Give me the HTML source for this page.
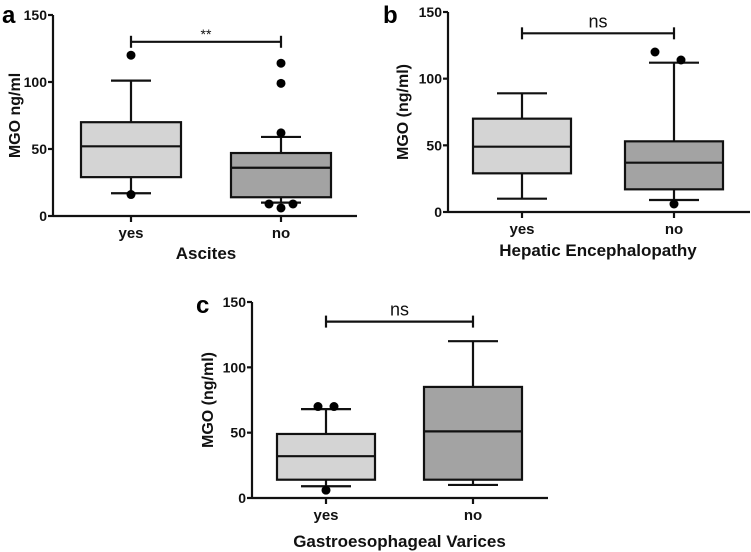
<!DOCTYPE html>
<html><head><meta charset="utf-8"><style>
html,body{margin:0;padding:0;background:#fff;}
svg{display:block;font-family:"Liberation Sans",Arial,sans-serif;}
</style></head><body>
<svg id="fig" width="751" height="552" viewBox="0 0 751 552"></svg>
<script>
// Panel a: Ascites
const catsA = ["yes","no"];
const statsA = [[17,29,52,70,101],[10,14,36,47,59]]; // min,q1,median,q3,max
const outliersA = [[[120,0],[16,0]],[[114,0],[99,0],[62,0],[9,-12],[9,12],[6,0]]];
// Panel b: Hepatic Encephalopathy
const catsB = ["yes","no"];
const statsB = [[10,29,49,70,89],[9,17,37,53,112]];
const outliersB = [[],[[120,-19],[114,7],[6,0]]];
// Panel c: Gastroesophageal Varices
const catsC = ["yes","no"];
const statsC = [[9,14,32,49,68],[10,14,51,85,120]];
const outliersC = [[[70,-8],[70,8],[6,0]],[]];
const ticks = [0,50,100,150];

const NS="http://www.w3.org/2000/svg";
const svg=document.getElementById('fig');
function mk(tag,attrs,parent,text){const e=document.createElementNS(NS,tag);for(const k in attrs)e.setAttribute(k,attrs[k]);if(text!==undefined)e.textContent=text;(parent||svg).appendChild(e);return e;}

const fills=["#d4d4d4","#a3a3a3"];
function panel(p){
  const g=mk('g',{});
  
  
  const y=v=>p.y0-(v/150)*(p.y0-p.y150);
  const st={stroke:"#111","stroke-width":2.2,fill:"none"};
  const ya=mk('line',Object.assign({x1:p.ax,y1:p.y150,x2:p.ax,y2:p.y0},st),g);
  
  const xa=mk('line',Object.assign({x1:p.ax,y1:p.y0,x2:p.axEnd,y2:p.y0},st),g);
  
  ticks.forEach(t=>{
    mk('line',Object.assign({x1:p.ax-5,y1:y(t),x2:p.ax,y2:y(t)},st),g);
    const tl=mk('text',{x:p.ax-6,y:y(t)+5,"text-anchor":"end","font-size":14,"font-weight":"bold",fill:"#111"},g,String(t));
    
  });
  p.cats.forEach((c,i)=>{
    const cx=p.cx[i], s=p.stats[i];
    mk('line',Object.assign({x1:cx,y1:p.y0,x2:cx,y2:p.y0+6},st),g);
    const xl=mk('text',{x:cx,y:p.y0+22,"text-anchor":"middle","font-size":15,"font-weight":"bold",fill:"#111"},g,c);
    
    const wl=mk('line',Object.assign({x1:cx,y1:y(s[0]),x2:cx,y2:y(s[4])},st),g);
    
    mk('line',Object.assign({x1:cx-p.cap,y1:y(s[0]),x2:cx+p.cap,y2:y(s[0])},st),g);
    mk('line',Object.assign({x1:cx-p.cap,y1:y(s[4]),x2:cx+p.cap,y2:y(s[4])},st),g);
    const b=mk('rect',{x:cx-p.bw,y:y(s[3]),width:2*p.bw,height:y(s[1])-y(s[3]),fill:fills[i],stroke:"#111","stroke-width":2.2},g);
    
    const md=mk('line',Object.assign({x1:cx-p.bw,y1:y(s[2]),x2:cx+p.bw,y2:y(s[2])},st),g);
    
    p.out[i].forEach(o=>{
      const d=mk('circle',{cx:cx+o[1],cy:y(o[0]),r:4.5,fill:"#000"},g);
      
    });
  });
  const by=y(p.sigV);
  mk('line',Object.assign({x1:p.cx[0],y1:by,x2:p.cx[1],y2:by},st),g);
  mk('line',Object.assign({x1:p.cx[0],y1:by-6,x2:p.cx[0],y2:by+6},st),g);
  mk('line',Object.assign({x1:p.cx[1],y1:by-6,x2:p.cx[1],y2:by+6},st),g);
  const sl=mk('text',{x:(p.cx[0]+p.cx[1])/2,y:by+p.sigDy,"text-anchor":"middle","font-size":p.sigFs,"font-weight":p.sigW,fill:"#111"},g,p.sig);
  
  const yt=mk('text',{x:0,y:0,transform:`translate(${p.ylx},${(p.y0+p.y150)/2}) rotate(-90)`,"text-anchor":"middle","font-size":16,"font-weight":"bold",fill:"#111"},g,p.ylabel);
  
  const xt=mk('text',{x:(p.cx[0]+p.cx[1])/2,y:p.xty,"text-anchor":"middle","font-size":17,"font-weight":"bold",fill:"#111"},g,p.xlabel);
  
  const pl=mk('text',{x:p.lx,y:p.ly,"font-size":24,"font-weight":"bold",fill:"#000"},g,p.letter);
  
}
panel({letter:"a",cats:catsA,stats:statsA,out:outliersA,ax:53,axEnd:357,y0:216,y150:15,cx:[131,281],bw:50,cap:20,sigV:130,sig:"**",sigDy:-3,sigFs:14,sigW:"normal",ylabel:"MGO ng/ml",ylx:20,xlabel:"Ascites",xty:259,lx:2,ly:23});
panel({letter:"b",cats:catsB,stats:statsB,out:outliersB,ax:448,axEnd:750,y0:212,y150:12,cx:[522,674],bw:49,cap:25,sigV:134,sig:"ns",sigDy:-6,sigFs:18,sigW:"normal",ylabel:"MGO (ng/ml)",ylx:408,xlabel:"Hepatic Encephalopathy",xty:256,lx:383,ly:23});
panel({letter:"c",cats:catsC,stats:statsC,out:outliersC,ax:252,axEnd:548,y0:498,y150:302,cx:[326,473],bw:49,cap:25,sigV:135,sig:"ns",sigDy:-6,sigFs:18,sigW:"normal",ylabel:"MGO (ng/ml)",ylx:213,xlabel:"Gastroesophageal Varices",xty:547,lx:196,ly:313});
</script>
</body></html>
